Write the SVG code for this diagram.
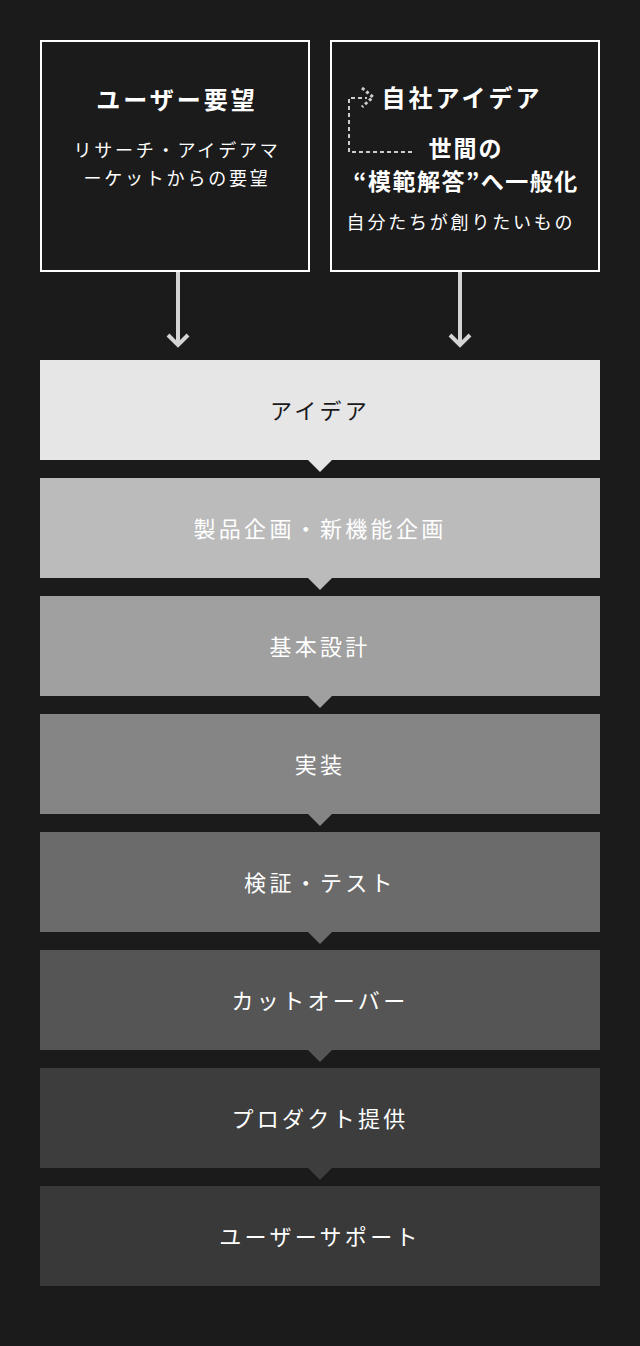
<svg xmlns="http://www.w3.org/2000/svg" width="640" height="1346" viewBox="0 0 640 1346">
<style>
text{font-family:"Noto Sans CJK JP","Noto Sans",sans-serif;text-anchor:middle}
.top{fill:#1b1b1b;stroke:#ffffff;stroke-width:2}
.ttl{font-size:24px;font-weight:bold;fill:#ffffff;letter-spacing:3px}
.sub{font-size:18px;fill:#ffffff;letter-spacing:2.8px}
.step{font-size:22px;fill:#ffffff;letter-spacing:3.3px}
.arr{stroke:#d4d4d4;stroke-width:4;fill:none}
.dash{stroke:#cccccc;stroke-width:2;fill:none;stroke-dasharray:4 3}
</style>
<rect width="640" height="1346" fill="#1b1b1b"/>
<g id="user-request">
<rect class="top" x="41" y="41" width="268" height="230"/>
<text class="ttl" x="177" y="109">ユーザー要望</text>
<text class="sub" x="177" y="157">リサーチ・アイデアマ</text>
<text class="sub" x="177" y="185">ーケットからの要望</text>
</g>
<g id="own-idea">
<rect class="top" x="331" y="41" width="268" height="230"/>
<text class="ttl" x="462" y="107">自社アイデア</text>
<text class="ttl" x="466" y="157" style="font-size:23px;letter-spacing:2px">世間の</text>
<text class="ttl" x="466" y="190" style="font-size:23px;letter-spacing:1.5px">“模範解答”へ一般化</text>
<text class="sub" x="461" y="229">自分たちが創りたいもの</text>
</g>
<g id="connectors">
<path class="arr" d="M178 272V344M168 335L178 345L188 335"/>
<path class="arr" d="M460 272V344M450 335L460 345L470 335"/>
<path class="dash" d="M412 152H349V98H367"/>
<path d="M362 88L373 97L362 107" fill="none" stroke="#cccccc" stroke-width="3" stroke-dasharray="3 2.5"/>
</g>
<g id="step1"><rect x="40" y="360" width="560" height="100" fill="#e6e6e6"/><path d="M308 460H332L320 472Z" fill="#e6e6e6"/><text class="step" x="320" y="419" style="fill:#1a1a1a">アイデア</text></g>
<g id="step2"><rect x="40" y="478" width="560" height="100" fill="#bbbbbb"/><path d="M308 578H332L320 590Z" fill="#bbbbbb"/><text class="step" x="320" y="537">製品企画・新機能企画</text></g>
<g id="step3"><rect x="40" y="596" width="560" height="100" fill="#a0a0a0"/><path d="M308 696H332L320 708Z" fill="#a0a0a0"/><text class="step" x="320" y="655">基本設計</text></g>
<g id="step4"><rect x="40" y="714" width="560" height="100" fill="#858585"/><path d="M308 814H332L320 826Z" fill="#858585"/><text class="step" x="320" y="773">実装</text></g>
<g id="step5"><rect x="40" y="832" width="560" height="100" fill="#6b6b6b"/><path d="M308 932H332L320 944Z" fill="#6b6b6b"/><text class="step" x="320" y="891">検証・テスト</text></g>
<g id="step6"><rect x="40" y="950" width="560" height="100" fill="#555555"/><path d="M308 1050H332L320 1062Z" fill="#555555"/><text class="step" x="320" y="1009">カットオーバー</text></g>
<g id="step7"><rect x="40" y="1068" width="560" height="100" fill="#3d3d3d"/><path d="M308 1168H332L320 1180Z" fill="#3d3d3d"/><text class="step" x="320" y="1127">プロダクト提供</text></g>
<g id="step8"><rect x="40" y="1186" width="560" height="100" fill="#393939"/><text class="step" x="320" y="1245">ユーザーサポート</text></g>
</svg>
